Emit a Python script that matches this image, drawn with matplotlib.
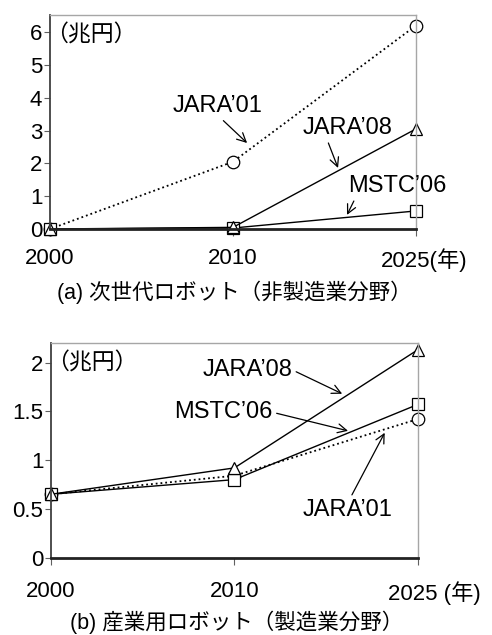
import matplotlib
matplotlib.use("Agg")
import matplotlib.pyplot as plt
import matplotlib.transforms as mtransforms

plt.rcParams['font.family'] = ['Liberation Sans', 'Noto Sans CJK JP', 'DejaVu Sans']

years = ["2000", "2010", "2025"]
unit_y = "（兆円）"

# (a) next-generation robots (non-manufacturing)
a_jara01 = [0.0, 2.05, 6.2]
a_jara08 = [0.0, 0.05, 3.05]
a_mstc06 = [0.0, 0.03, 0.55]
a_yticks = [0, 1, 2, 3, 4, 5, 6]
a_ytick_labels = ["0", "1", "2", "3", "4", "5", "6"]
a_last_label = "2025(年)"
a_caption = "(a) 次世代ロボット（非製造業分野）"

# (b) industrial robots (manufacturing)
b_jara01 = [0.65, 0.84, 1.42]
b_jara08 = [0.65, 0.92, 2.13]
b_mstc06 = [0.65, 0.80, 1.57]
b_yticks = [0, 0.5, 1, 1.5, 2]
b_ytick_labels = ["0", "0.5", "1", "1.5", "2"]
b_last_label = "2025 (年)"
b_caption = "(b) 産業用ロボット（製造業分野）"

W, H = 492, 635
fig = plt.figure(figsize=(W / 100, H / 100), dpi=100)

ax1 = fig.add_axes([50 / W, 1 - 229 / H, 366 / W, 214 / H])
ax2 = fig.add_axes([51 / W, 1 - 557.7 / H, 366.7 / W, 214.7 / H])

FS_TICK = 16
FS_ANN = 17
mk = dict(markersize=9, markerfacecolor='white', markeredgecolor='black',
          markeredgewidth=0.9, clip_on=False, color='black')


def style(ax, ymax, yticks, ylabels, last_label, xpad, last_shift):
    x = list(range(len(years)))
    ax.set_xlim(0, 2)
    ax.set_ylim(0, ymax)
    ax.set_xticks(x)
    labels = years[:-1] + [last_label]
    ax.set_xticklabels(labels, fontsize=FS_TICK)
    ax.set_yticks(yticks)
    ax.set_yticklabels(ylabels, fontsize=FS_TICK)
    for s in ['top', 'right']:
        ax.spines[s].set_color('#a6a6a6')
        ax.spines[s].set_linewidth(1.0)
    ax.spines['left'].set_color('#404040')
    ax.spines['left'].set_linewidth(1.3)
    ax.spines['bottom'].set_color('#222222')
    ax.spines['bottom'].set_linewidth(2.0)
    ax.tick_params(axis='y', direction='out', length=4, width=0.8,
                   color='#606060', pad=1.5)
    ax.tick_params(axis='x', direction='out', length=5, width=0.8,
                   color='#606060', pad=xpad)
    lab = ax.get_xticklabels()[-1]
    lab.set_horizontalalignment('left')
    lab.set_transform(lab.get_transform() +
                      mtransforms.ScaledTranslation(last_shift / 100, 0, fig.dpi_scale_trans))
    ax.text(0.0, 1.0, unit_y, transform=ax.transAxes + mtransforms.ScaledTranslation(
        -5 / 100, -9 / 100, fig.dpi_scale_trans), ha='left', va='top', fontsize=16.5,
        family=['Noto Sans CJK JP'])


def arrow(relpos):
    return dict(arrowstyle='->', lw=0.9, color='black', shrinkA=1, shrinkB=0,
                mutation_scale=16, relpos=relpos)


x = list(range(len(years)))
# Top chart
ax1.plot(x, a_jara01, linestyle=':', lw=1.3, marker='o', **mk)
ax1.plot(x, a_mstc06, linestyle='-', lw=1.0, marker='s', **mk)
ax1.plot(x, a_jara08, linestyle='-', lw=1.0, marker='^', **mk)
style(ax1, 6.52, a_yticks, a_ytick_labels, a_last_label, 8.5, -35)

ax1.annotate("JARA’01", xy=(1.077, 2.62), xytext=(0.913, 3.75),
             ha='center', va='center', fontsize=FS_ANN, arrowprops=arrow((0.5, 0.1)))
ax1.annotate("JARA’08", xy=(1.574, 1.86), xytext=(1.628, 3.08),
             ha='center', va='center', fontsize=FS_ANN, arrowprops=arrow((0.26, 0.05)))
ax1.annotate("MSTC’06", xy=(1.623, 0.43), xytext=(1.90, 1.31),
             ha='center', va='center', fontsize=FS_ANN, arrowprops=arrow((0.08, 0.05)))

# Bottom chart
ax2.plot(x, b_jara01, linestyle=':', lw=1.3, marker='o', **mk)
ax2.plot(x, b_mstc06, linestyle='-', lw=1.0, marker='s', **mk)
ax2.plot(x, b_jara08, linestyle='-', lw=1.0, marker='^', **mk)
style(ax2, 2.2, b_yticks, b_ytick_labels, b_last_label, 12, -30)

ax2.annotate("JARA’08", xy=(1.588, 1.68), xytext=(1.07, 1.925),
             ha='center', va='center', fontsize=FS_ANN, arrowprops=arrow((1.0, 0.5)))
ax2.annotate("MSTC’06", xy=(1.62, 1.30), xytext=(0.94, 1.49),
             ha='center', va='center', fontsize=FS_ANN, arrowprops=arrow((1.0, 0.5)))
ax2.annotate("JARA’01", xy=(1.82, 1.28), xytext=(1.615, 0.49),
             ha='center', va='center', fontsize=FS_ANN, arrowprops=arrow((0.53, 1.0)))

fig.text(234 / W, 1 - 292 / H, a_caption, ha='center', va='center', fontsize=15.5)
fig.text(237 / W, 1 - 622 / H, b_caption, ha='center', va='center', fontsize=15.5)

fig.savefig("out.png", dpi=100)
